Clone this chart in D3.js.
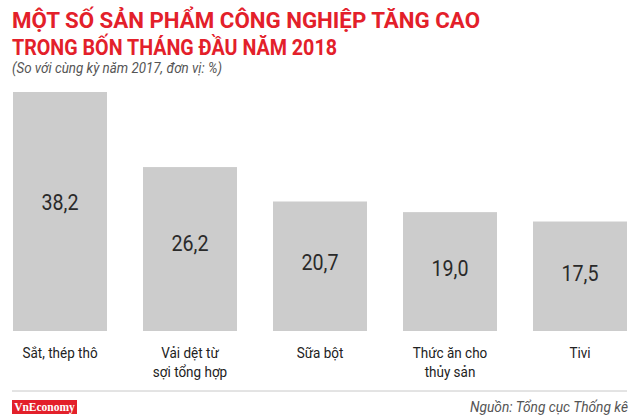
<!DOCTYPE html>
<html><head><meta charset="utf-8">
<script src="https://cdn.jsdelivr.net/npm/d3@7"></script>
<style>
html,body{margin:0;padding:0;background:#fff;}
svg{display:block;}
</style></head>
<body>
<script>
const titleLines = ["MỘT SỐ SẢN PHẨM CÔNG NGHIỆP TĂNG CAO", "TRONG BỐN THÁNG ĐẦU NĂM 2018"];
const subtitle = "(So với cùng kỳ năm 2017, đơn vị: %)";
const categories = [["Sắt, thép thô"], ["Vải dệt từ", "sợi tổng hợp"], ["Sữa bột"], ["Thức ăn cho", "thủy sản"], ["Tivi"]];
const values = [38.2, 26.2, 20.7, 19.0, 17.5];
const source = "Nguồn: Tổng cục Thống kê";
const logo = "VnEconomy";

const W = 640, H = 420;
const svg = d3.select("body").append("svg").attr("width", W).attr("height", H);

const title = svg.append("g").attr("font-family", "Roboto, sans-serif").attr("font-weight", 700)
  .attr("font-size", 22.5).attr("fill", "#e3202a");
title.append("text").attr("x", 12).attr("y", 28).text(titleLines[0])
  .attr("textLength", 468).attr("lengthAdjust", "spacingAndGlyphs");
title.append("text").attr("x", 12).attr("y", 55).text(titleLines[1])
  .attr("textLength", 325).attr("lengthAdjust", "spacingAndGlyphs");

svg.append("text").attr("x", 12).attr("y", 73).attr("font-family", "Roboto, sans-serif")
  .attr("font-style", "italic").attr("font-size", 14).attr("fill", "#555")
  .attr("textLength", 210).attr("lengthAdjust", "spacingAndGlyphs").text(subtitle);

const idx = values.map((d, i) => i);
const x = d3.scaleBand().domain(idx).range([13, 627]).paddingInner(36 / 130).paddingOuter(0);
const y = d3.scaleLinear().domain([0, 38.2]).range([331, 92]);
const fmt = v => d3.format(".1f")(v).replace(".", ",");

svg.append("g").selectAll("rect").data(values).join("rect")
  .attr("x", (d, i) => x(i)).attr("width", x.bandwidth())
  .attr("y", d => y(d)).attr("height", d => y(0) - y(d))
  .attr("fill", "#cccccc");

svg.append("g").selectAll("text").data(values).join("text")
  .attr("x", (d, i) => x(i) + x.bandwidth() / 2)
  .attr("y", d => y(d) + (y(0) - y(d)) * 0.45 + 10)
  .attr("text-anchor", "middle").attr("font-family", "Roboto, sans-serif")
  .attr("font-size", 22).attr("fill", "#2a2a2a")
  .attr("textLength", 37).attr("lengthAdjust", "spacingAndGlyphs")
  .text(d => fmt(d));

const labels = svg.append("g").attr("font-family", "Roboto, sans-serif").attr("font-size", 15).attr("fill", "#222");
categories.forEach((lines, i) => {
  const t = labels.append("text").attr("text-anchor", "middle")
    .attr("transform", `translate(${x(i) + x.bandwidth() / 2},0) scale(0.9,1)`);
  lines.forEach((l, j) => t.append("tspan").attr("x", 0).attr("y", 358 + j * 19).text(l));
});

svg.append("line").attr("x1", 12).attr("x2", 627).attr("y1", 391).attr("y2", 391)
  .attr("stroke", "#c8c8c8").attr("stroke-width", 1);

svg.append("rect").attr("x", 12).attr("y", 400).attr("width", 65).attr("height", 14).attr("fill", "#e3202a");
svg.append("text").attr("x", 44.5).attr("y", 411).attr("text-anchor", "middle")
  .attr("font-family", "'Liberation Serif', serif").attr("font-weight", 700).attr("font-size", 11.5)
  .attr("fill", "#fff").text(logo);

svg.append("text").attr("x", 628).attr("y", 412).attr("text-anchor", "end")
  .attr("font-family", "Roboto, sans-serif").attr("font-style", "italic").attr("font-size", 14)
  .attr("fill", "#555").attr("textLength", 158).attr("lengthAdjust", "spacingAndGlyphs").text(source);
</script>
</body></html>
